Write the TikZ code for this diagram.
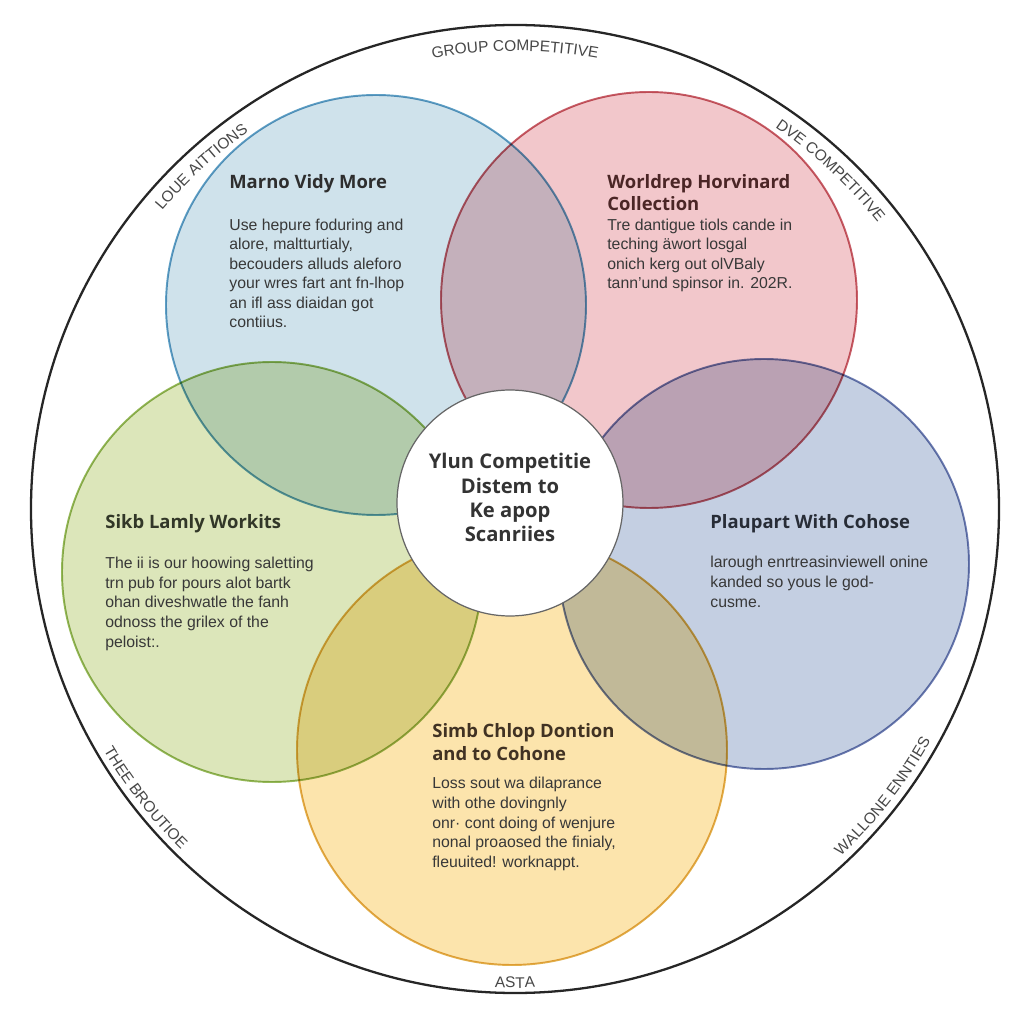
\documentclass[tikz,border=0pt]{standalone}
\usepackage{fontspec}
\setmainfont{Liberation Sans}
\newfontfamily\headfont{Open Sans}
\usetikzlibrary{decorations.text}

\tikzset{
  venn/.style={fill=#1},
  vennline/.style={draw=#1, line width=1.1pt},
  headtxt/.style={anchor=base west, inner sep=0pt, align=left,
    font=\headfont\bfseries\fontsize{10.5}{12.6}\selectfont, text=#1},
  bodytxt/.style={anchor=base west, inner sep=0pt, align=left,
    font=\fontsize{9}{11.1}\selectfont, text=black!78},
  ringlabel/.style={decorate, decoration={text along path, text align=center,
    text={|\color{black!72}\fontsize{8.8}{10}\selectfont|#1}}}
}

\begin{document}
\begin{tikzpicture}[x=0.02cm, y=0.02cm]
    \definecolor{azul}{RGB}{207,226,235}     % arriba izq.
    \definecolor{azulB}{RGB}{95,160,198}
    \definecolor{rosa}{RGB}{242,199,203}     % arriba der.
    \definecolor{rosaB}{RGB}{200,95,105}
    \definecolor{verde}{RGB}{220,230,186}    % izquierda
    \definecolor{verdeB}{RGB}{150,185,90}
    \definecolor{gris}{RGB}{196,207,226}     % derecha
    \definecolor{grisB}{RGB}{110,125,178}
    \definecolor{amarillo}{RGB}{252,228,172} % abajo
    \definecolor{amarilloB}{RGB}{225,175,75}
    \definecolor{tRosaC}{RGB}{75,38,38}
    \definecolor{tVerdeC}{RGB}{50,55,40}
    \definecolor{tGrisC}{RGB}{40,45,55}
    \definecolor{tAmarilloC}{RGB}{65,50,35}

    \useasboundingbox (-515,-515) rectangle (509,509);
    \fill[white] (-515,-515) rectangle (509,509);

    % circulo exterior
    \draw[line width=1.3pt, black!85] (0,0) circle (484);

    % circulos de colores
    \begin{scope}[blend group=multiply]
      \fill[venn=azul] (-139,204) circle (210);
      \fill[venn=rosa] (134,209) circle (208);
      \fill[venn=verde] (-243,-63) circle (210);
      \fill[venn=gris] (249,-55) circle (205);
      \fill[venn=amarillo] (-3,-241) circle (215);
      \draw[vennline=azulB] (-139,204) circle (210);
      \draw[vennline=rosaB] (134,209) circle (208);
      \draw[vennline=verdeB] (-243,-63) circle (210);
      \draw[vennline=grisB] (249,-55) circle (205);
      \draw[vennline=amarilloB] (-3,-241) circle (215);
    \end{scope}

    % centro (base = ultima linea)
    \fill[white, draw=black!60, line width=0.7pt] (-5,6) circle (113);
    \node[anchor=base, inner sep=0pt, align=center, text=black!80,
      font=\headfont\bfseries\fontsize{11.5}{13.9}\selectfont] (centro) at (-5,-33)
      {Ylun Competitie\\Distem to\\Ke apop\\Scanriies};

    % textos
    \node[headtxt=black!82] (tAzul) at (-286,320) {Marno Vidy More};
    \node[bodytxt] (cAzul) at (-286,181) {Use hepure foduring and\\alore, maltturtialy,\\becouders alluds aleforo\\your wres fart ant fn-lhop\\an ifl ass diaidan got\\contiius.};

    \node[headtxt=tRosaC] (tRosa) at (92,298) {Worldrep Horvinard\\Collection};
    \node[bodytxt] (cRosa) at (92,220) {Tre dantigue tiols cande in\\teching äwort losgal\\onich kerg out olVBaly\\tann'und spinsor in. 202R.};

    \node[headtxt=tVerdeC] (tVerde) at (-410,-20) {Sikb Lamly Workits};
    \node[bodytxt] (cVerde) at (-410,-138) {The ii is our hoowing saletting\\trn pub for pours alot bartk\\ohan diveshwatle the fanh\\odnoss the grilex of the\\peloist:.};

    \node[headtxt=tGrisC] (tGris) at (195,-20) {Plaupart With Cohose};
    \node[bodytxt] (cGris) at (195,-98) {larough enrtreasinviewell onine\\kanded so yous le god-\\cusme.};

    \node[headtxt=tAmarilloC] (tAmarillo) at (-83,-251) {Simb Chlop Dontion\\and to Cohone};
    \node[bodytxt] (cAmarillo) at (-83,-358) {Loss sout wa dilaprance\\with othe dovingnly\\onr· cont doing of wenjure\\nonal proaosed the finialy,\\fleuuited! worknappt.};

    % rotulos del anillo
    \path[ringlabel={GROUP COMPETITIVE}] (115:458) arc[start angle=115, end angle=65, radius=458];
    \path[ringlabel={LOUE AITTIONS}] (152:462) arc[start angle=152, end angle=113, radius=462];
    \path[ringlabel={DVE COMPETITIVE}] (70:462) arc[start angle=70, end angle=24, radius=462];
    \path[ringlabel={THEE BROUTIOE}] (198:477) arc[start angle=198, end angle=238, radius=477];
    \path[ringlabel={WALLONE ENNTIES}] (300:476) arc[start angle=300, end angle=344, radius=476];
    \path[ringlabel={ASTA}] (255:479) arc[start angle=255, end angle=285, radius=479];
  \end{tikzpicture}
\end{document}
